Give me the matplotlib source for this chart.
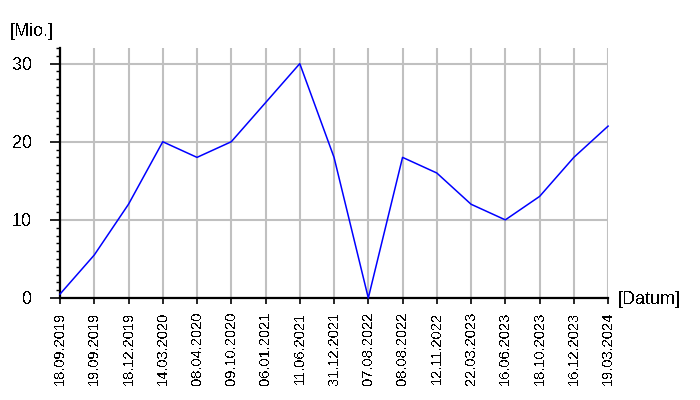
import matplotlib
matplotlib.use('Agg')
import matplotlib.pyplot as plt
from matplotlib.ticker import MultipleLocator

plt.rcParams['font.family'] = ['Liberation Sans', 'DejaVu Sans']
plt.rcParams['text.antialiased'] = False

# Dates (categories) and values in Mio.
dates = ['18.09.2019', '19.09.2019', '18.12.2019', '14.03.2020', '08.04.2020',
         '09.10.2020', '06.01.2021', '11.06.2021', '31.12.2021', '07.08.2022',
         '08.08.2022', '12.11.2022', '22.03.2023', '16.06.2023', '18.10.2023',
         '16.12.2023', '19.03.2024']
values = [0.5, 5.5, 12, 20, 18, 20, 25, 30, 18, 0, 18, 16, 12, 10, 13, 18, 22]
y_ticks = [0, 10, 20, 30]

fig = plt.figure(figsize=(7, 4), dpi=100)
ax = fig.add_axes([0.0857, 0.255, 0.783, 0.625])

x = list(range(len(dates)))
ax.plot(x, values, color='#0000ff', linewidth=1.1, zorder=3, clip_on=False)

ax.set_xlim(0, len(dates) - 1)
ax.set_ylim(0, 32)
ax.set_xticks(x)
ax.set_xticklabels(dates, rotation=90, fontsize=10.5)
ax.set_yticks(y_ticks)
ax.set_yticklabels([str(v) for v in y_ticks], fontsize=13)
ax.yaxis.set_minor_locator(MultipleLocator(1))

ax.grid(True, which='major', color='#c0c0c0', linewidth=1.5)
ax.set_axisbelow(True)

for side in ['top', 'right']:
    ax.spines[side].set_visible(False)
for side in ['left', 'bottom']:
    ax.spines[side].set_linewidth(1.6)
    ax.spines[side].set_color('black')

ax.tick_params(axis='y', which='major', length=7, width=1.2, pad=13)
ax.tick_params(axis='y', which='minor', length=3, width=1.0)
ax.tick_params(axis='x', which='major', length=4, width=1.2, pad=6)

fig.text(10 / 700, 1 - 32 / 400, '[Mio.]', fontsize=13, va='center', ha='left')
fig.text(618 / 700, 1 - 299 / 400, '[Datum]', fontsize=13, va='center', ha='left')

fig.savefig('out.png', dpi=100)
